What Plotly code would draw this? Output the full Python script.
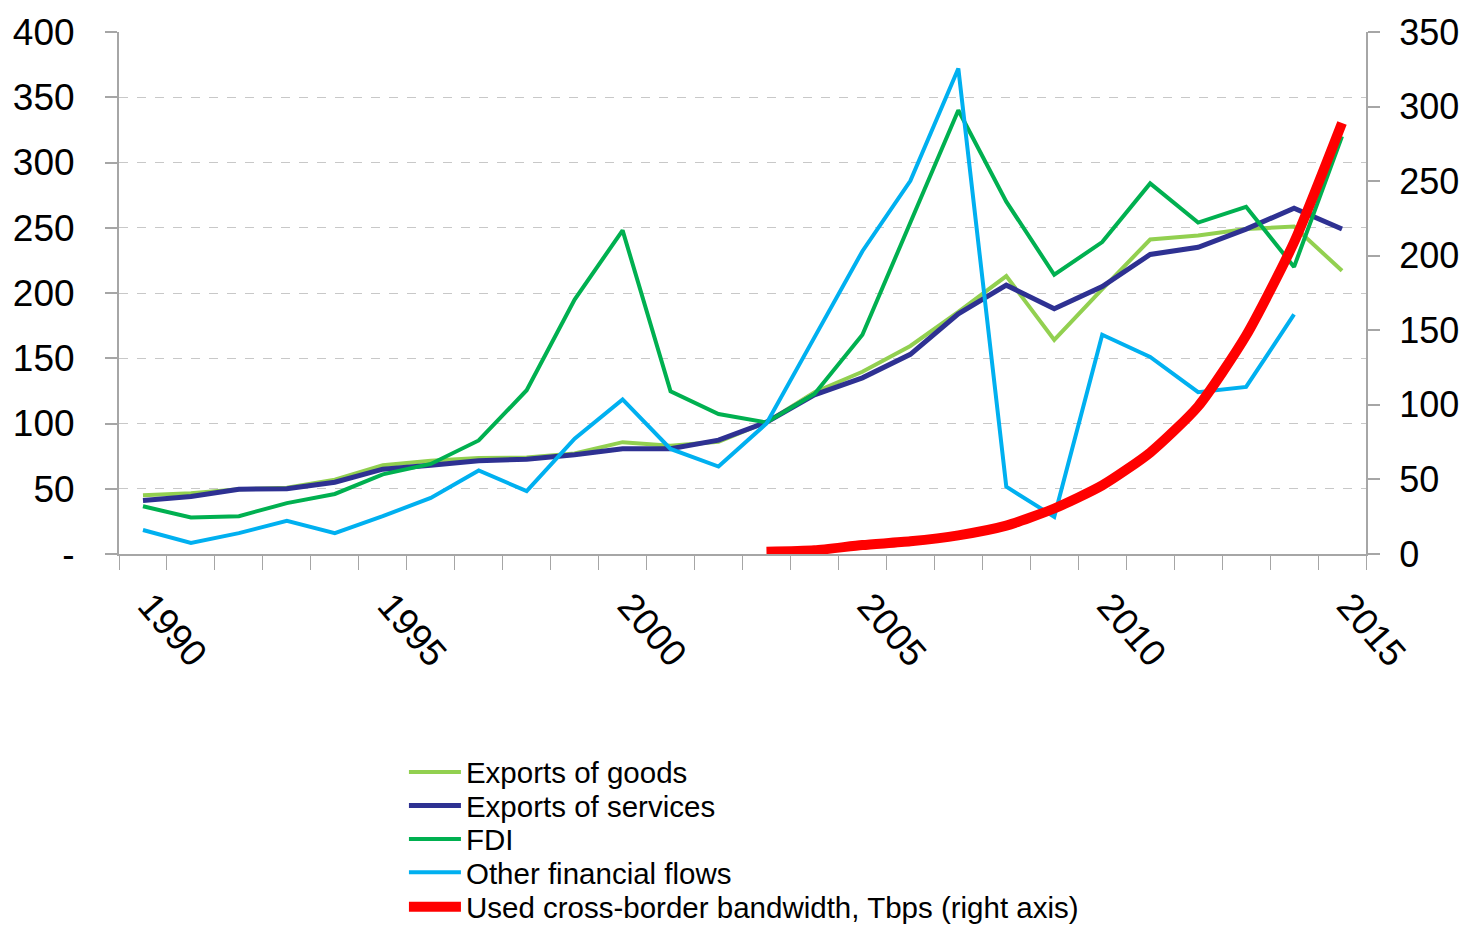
import plotly.graph_objects as go

years = list(range(1990, 2016))

exports_goods = [45, 46.5, 49.6, 50.8, 57, 68, 71.5, 73.5, 74, 77, 85.7, 83, 86, 101, 124, 139.6, 159.4, 185.5, 213, 164, 203, 241, 244, 249, 251, 217]
exports_services = [41, 44, 49.6, 50, 55, 65, 68, 71.5, 72.7, 76, 80.7, 80.7, 87.2, 101, 122, 135, 153, 184, 206, 188, 205, 229.5, 235, 249, 265, 249]
fdi = [36.6, 28, 29, 39, 46, 61, 69, 87, 125.5, 195, 248, 124.7, 107.3, 100.8, 122.6, 168, 254, 340, 270, 214, 239, 284, 254, 266, 220, 320]
other_flows = [18.4, 8.5, 16, 25.5, 16, 29, 43, 64, 48.2, 88.3, 118.5, 80.5, 67, 100, 166, 232, 286, 372, 51.6, 28.5, 168, 151, 124, 128, 183.6, None]
bw_years = list(range(2003, 2016))
bandwidth = [1.5, 2.5, 6, 8.5, 12.5, 19, 30.5, 46, 68, 99, 146.5, 209, 289]

left_ticks = [0, 50, 100, 150, 200, 250, 300, 350, 400]
left_ticktext = ["-", "50", "100", "150", "200", "250", "300", "350", "400"]
right_ticks = [0, 50, 100, 150, 200, 250, 300, 350]
x_label_years = [1990, 1995, 2000, 2005, 2010, 2015]

names = ["Exports of goods", "Exports of services", "FDI", "Other financial flows",
         "Used cross-border bandwidth, Tbps (right axis)"]
colors = ["#92D050", "#2E3192", "#00B050", "#00B0F0", "#FF0000"]
widths = [4, 5, 4, 4, 10]

FONT = "Liberation Sans, Arial, sans-serif"

fig = go.Figure()
series = [exports_goods, exports_services, fdi, other_flows]
for i, s in enumerate(series):
    fig.add_trace(go.Scatter(x=years, y=s, mode="lines", name=names[i],
                             line=dict(color=colors[i], width=widths[i]),
                             legend="legend" if i == 0 else f"legend{i+1}"))
fig.add_trace(go.Scatter(x=bw_years, y=bandwidth, mode="lines", name=names[4],
                         line=dict(color=colors[4], width=widths[4], shape="spline", smoothing=0.6),
                         yaxis="y2", legend="legend5"))

plot_top, plot_bottom = 32, 554.5
row_px = [773, 806.5, 840, 873.5, 908]
leg_x = 0.2285
legend_common = dict(x=leg_x, xanchor="left", yanchor="middle", bgcolor="rgba(0,0,0,0)",
                     font=dict(family=FONT, size=29.5, color="#000000"), itemwidth=52,
                     borderwidth=0, tracegroupgap=0)
legends = {}
for i, py in enumerate(row_px):
    key = "legend" if i == 0 else f"legend{i+1}"
    legends[key] = dict(legend_common, y=(plot_bottom - py) / (plot_bottom - plot_top))

fig.update_layout(
    width=1464, height=926,
    margin=dict(l=119, r=98, t=32, b=371.5, autoexpand=False),
    paper_bgcolor="white", plot_bgcolor="white",
    font=dict(family=FONT, color="#000000"),
    showlegend=True,
    xaxis=dict(
        range=[1989.5, 2015.5], tickmode="array", tickvals=x_label_years,
        ticktext=[str(y) for y in x_label_years],
        ticks="outside", ticklen=0, tickangle=49,
        tickfont=dict(family=FONT, size=37, color="#000000"),
        ticklabelstandoff=13, ticklabelshift=7, automargin=False,
        showline=True, linecolor="#A6A6A6", linewidth=2,
        showgrid=False, zeroline=False,
        minor=dict(tickmode="array", tickvals=[1989.5 + k for k in range(27)],
                   ticks="outside", ticklen=14, tickcolor="#A6A6A6", tickwidth=1, showgrid=False),
    ),
    yaxis=dict(
        range=[0, 400], tickmode="array", tickvals=left_ticks, ticktext=left_ticktext,
        ticks="outside", ticklen=12, tickcolor="#A6A6A6", tickwidth=2,
        tickfont=dict(family=FONT, size=37, color="#000000"),
        ticklabelstandoff=23, automargin=False,
        showline=True, linecolor="#A6A6A6", linewidth=2,
        showgrid=True, gridcolor="#C8C8C8", griddash="dash", gridwidth=1,
        zeroline=False,
    ),
    yaxis2=dict(
        range=[0, 350], tickmode="array", tickvals=right_ticks,
        overlaying="y", side="right",
        ticks="outside", ticklen=12, tickcolor="#A6A6A6", tickwidth=2,
        tickfont=dict(family=FONT, size=36, color="#000000"),
        ticklabelstandoff=12, automargin=False,
        showline=True, linecolor="#A6A6A6", linewidth=2,
        showgrid=False, zeroline=False,
    ),
    **legends,
)

# remove the default 8px page margin so the 1464x926 figure fills the window exactly
fig.write_html("out.html", config={"displayModeBar": False},
               post_script="document.body.style.margin='0';document.body.style.overflow='hidden';")
